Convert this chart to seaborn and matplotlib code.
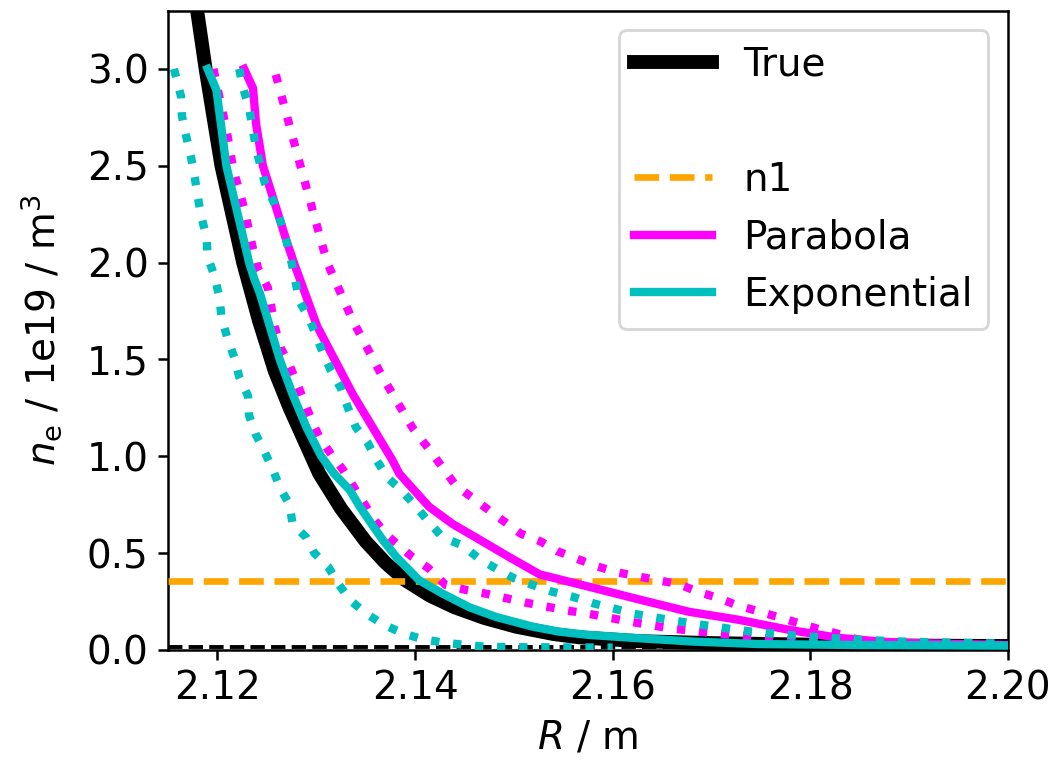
import matplotlib
matplotlib.use("Agg")
import matplotlib.pyplot as plt
from matplotlib.lines import Line2D
import seaborn as sns

# ---- density profiles near the separatrix (R in m, n_e in 1e19 m^-3) ----
true_R = [2.1178, 2.1188, 2.1204, 2.1226, 2.1242, 2.1258, 2.1273, 2.1288, 2.1303,
          2.1325, 2.1350, 2.1370, 2.1390, 2.1415, 2.1440, 2.1470, 2.1502, 2.1540,
          2.1566, 2.1626, 2.1700, 2.1800, 2.1900, 2.2000]
true_ne = [3.35, 3.00, 2.50, 2.00, 1.70, 1.44, 1.25, 1.08, 0.91,
           0.73, 0.56, 0.45, 0.36, 0.28, 0.22, 0.165, 0.12, 0.082,
           0.065, 0.045, 0.035, 0.027, 0.022, 0.020]

par_R = [2.1227, 2.1236, 2.1239, 2.1246, 2.1259, 2.1270, 2.1278, 2.1301, 2.1337,
         2.1377, 2.1384, 2.1414, 2.1438, 2.1465, 2.1495, 2.1526, 2.1576, 2.1627,
         2.1677, 2.1728, 2.1779, 2.1829, 2.1870, 2.1897, 2.1950, 2.2000]
par_ne = [3.00, 2.90, 2.72, 2.50, 2.29, 2.11, 1.99, 1.67, 1.32,
          0.98, 0.91, 0.74, 0.65, 0.57, 0.48, 0.39, 0.326, 0.26,
          0.197, 0.155, 0.103, 0.062, 0.043, 0.036, 0.030, 0.025]

par_hi_R = [2.1259, 2.1285, 2.1311, 2.1337, 2.1367, 2.1397, 2.1418, 2.1441, 2.1475,
            2.1507, 2.1527, 2.1544, 2.1564, 2.1585, 2.1605, 2.1625, 2.1645, 2.1667,
            2.1686, 2.1706, 2.1726, 2.1747, 2.1767, 2.1787, 2.1807, 2.1826, 2.1849,
            2.1880, 2.1920, 2.2000]
par_hi_ne = [2.97, 2.48, 2.00, 1.70, 1.41, 1.15, 1.01, 0.85, 0.72,
             0.60, 0.56, 0.51, 0.47, 0.43, 0.40, 0.38, 0.36, 0.34,
             0.30, 0.27, 0.23, 0.20, 0.17, 0.14, 0.11, 0.086, 0.052,
             0.040, 0.032, 0.025]

par_lo_R = [2.1196, 2.1200, 2.1209, 2.1216, 2.1221, 2.1227, 2.1236, 2.1241, 2.1251,
            2.1258, 2.1264, 2.1273, 2.1281, 2.1288, 2.1295, 2.1303, 2.1315, 2.1327,
            2.1359, 2.1372, 2.1397, 2.1414, 2.1431, 2.1451, 2.1472, 2.1512, 2.1554,
            2.1576, 2.1617, 2.1657, 2.1701, 2.1741, 2.1785, 2.1826, 2.1900, 2.2000]
par_lo_ne = [3.00, 2.90, 2.69, 2.48, 2.39, 2.28, 2.07, 1.97, 1.87,
             1.67, 1.56, 1.47, 1.37, 1.28, 1.19, 1.10, 1.01, 0.93,
             0.67, 0.59, 0.48, 0.42, 0.335, 0.31, 0.29, 0.244, 0.203,
             0.186, 0.146, 0.112, 0.086, 0.069, 0.046, 0.034, 0.028, 0.025]

exp_R = [2.1190, 2.1199, 2.1209, 2.1232, 2.1237, 2.1243, 2.1253, 2.1263, 2.1276,
         2.1290, 2.1300, 2.1305, 2.1318, 2.1334, 2.1344, 2.1356, 2.1367, 2.1381,
         2.1404, 2.1428, 2.1455, 2.1482, 2.1519, 2.1546, 2.1576, 2.1627, 2.1681,
         2.1748, 2.1850, 2.2000]
exp_ne = [3.00, 2.89, 2.50, 2.00, 1.92, 1.84, 1.67, 1.50, 1.32,
          1.15, 1.05, 1.00, 0.91, 0.825, 0.74, 0.65, 0.57, 0.48,
          0.36, 0.29, 0.22, 0.17, 0.12, 0.094, 0.077, 0.060, 0.043,
          0.030, 0.025, 0.022]

exp_hi_R = [2.1222, 2.1226, 2.1232, 2.1239, 2.1248, 2.1258, 2.1264, 2.1270, 2.1275,
            2.1283, 2.1293, 2.1307, 2.1315, 2.1325, 2.1332, 2.1340, 2.1352, 2.1361,
            2.1372, 2.1387, 2.1401, 2.1414, 2.1428, 2.1448, 2.1465, 2.1482, 2.1500,
            2.1519, 2.1539, 2.1559, 2.1580, 2.1600, 2.1622, 2.1642, 2.1662, 2.1684,
            2.1704, 2.1726, 2.1747, 2.1768, 2.1789, 2.1809, 2.1849, 2.1893, 2.1936,
            2.1977, 2.2000]
exp_hi_ne = [3.00, 2.90, 2.80, 2.59, 2.41, 2.30, 2.21, 2.11, 2.00,
             1.80, 1.71, 1.53, 1.44, 1.35, 1.25, 1.15, 1.07, 0.98,
             0.89, 0.82, 0.74, 0.66, 0.58, 0.54, 0.47, 0.42, 0.37,
             0.335, 0.30, 0.275, 0.241, 0.215, 0.186, 0.168, 0.151, 0.134,
             0.120, 0.103, 0.091, 0.082, 0.072, 0.065, 0.052, 0.043, 0.038,
             0.034, 0.034]

exp_lo_R = [2.1156, 2.1163, 2.1164, 2.1168, 2.1173, 2.1177, 2.1180, 2.1184, 2.1189,
            2.1190, 2.1197, 2.1202, 2.1204, 2.1210, 2.1217, 2.1222, 2.1231, 2.1232,
            2.1239, 2.1248, 2.1256, 2.1264, 2.1273, 2.1276, 2.1290, 2.1298, 2.1312,
            2.1322, 2.1334, 2.1350, 2.1367, 2.1387, 2.1408, 2.1428, 2.1450, 2.1470,
            2.1492, 2.1600]
exp_lo_ne = [3.00, 2.86, 2.76, 2.66, 2.55, 2.44, 2.34, 2.23, 2.13,
             2.03, 1.93, 1.82, 1.72, 1.61, 1.51, 1.41, 1.31, 1.21,
             1.11, 1.02, 0.93, 0.83, 0.75, 0.65, 0.58, 0.50, 0.43,
             0.344, 0.258, 0.189, 0.134, 0.086, 0.055, 0.038, 0.026, 0.017,
             0.014, 0.012]

n1_level = 0.355
base_level = 0.015

# ---- figure ----
plt.rcParams.update({
    "font.family": ["DejaVu Sans"],
    "font.size": 14,
    "axes.linewidth": 0.9,
})

fig = plt.figure(figsize=(5.285, 3.85), dpi=200)
ax = fig.add_axes([0.159, 0.156, 0.7945, 0.830])

c_par = "#ff00ff"
c_exp = "#00bfbf"
c_n1 = "#ffa500"

ax.axhline(base_level, color="black", lw=1.4, ls="--", zorder=1)

sns.lineplot(x=true_R, y=true_ne, ax=ax, color="black", lw=5, estimator=None,
             sort=False, zorder=2)
ax.axhline(n1_level, color=c_n1, lw=2.4, ls="--", zorder=3)

sns.lineplot(x=par_R, y=par_ne, ax=ax, color=c_par, lw=3, estimator=None,
             sort=False, zorder=4)
sns.lineplot(x=par_hi_R, y=par_hi_ne, ax=ax, color=c_par, lw=3, ls=":",
             estimator=None, sort=False, zorder=4)
sns.lineplot(x=par_lo_R, y=par_lo_ne, ax=ax, color=c_par, lw=3, ls=":",
             estimator=None, sort=False, zorder=4)

sns.lineplot(x=exp_R, y=exp_ne, ax=ax, color=c_exp, lw=3, estimator=None,
             sort=False, zorder=5)
sns.lineplot(x=exp_hi_R, y=exp_hi_ne, ax=ax, color=c_exp, lw=3, ls=":",
             estimator=None, sort=False, zorder=5)
sns.lineplot(x=exp_lo_R, y=exp_lo_ne, ax=ax, color=c_exp, lw=3, ls=":",
             estimator=None, sort=False, zorder=5)

ax.set_xlim(2.115, 2.20)
ax.set_ylim(0, 3.3)
ax.set_xticks([2.12, 2.14, 2.16, 2.18, 2.20])
ax.set_xticklabels(["2.12", "2.14", "2.16", "2.18", "2.20"])
ax.set_yticks([0.0, 0.5, 1.0, 1.5, 2.0, 2.5, 3.0])
ax.tick_params(labelsize=14, width=0.9, length=3.5)
ax.set_xlabel(r"$R$ / m", fontsize=14)
ax.set_ylabel(r"$n_\mathrm{e}$ / 1e19 / m$^3$", fontsize=14, labelpad=8)

handles = [
    Line2D([], [], color="black", lw=5),
    Line2D([], [], color="none", lw=0),
    Line2D([], [], color=c_n1, lw=2.4, ls="--"),
    Line2D([], [], color=c_par, lw=3),
    Line2D([], [], color=c_exp, lw=3),
]
labels = ["True", " ", "n1", "Parabola", "Exponential"]
ax.legend(handles, labels, loc="upper right", fontsize=14, framealpha=0.8)

fig.savefig("out.png", dpi=200)
